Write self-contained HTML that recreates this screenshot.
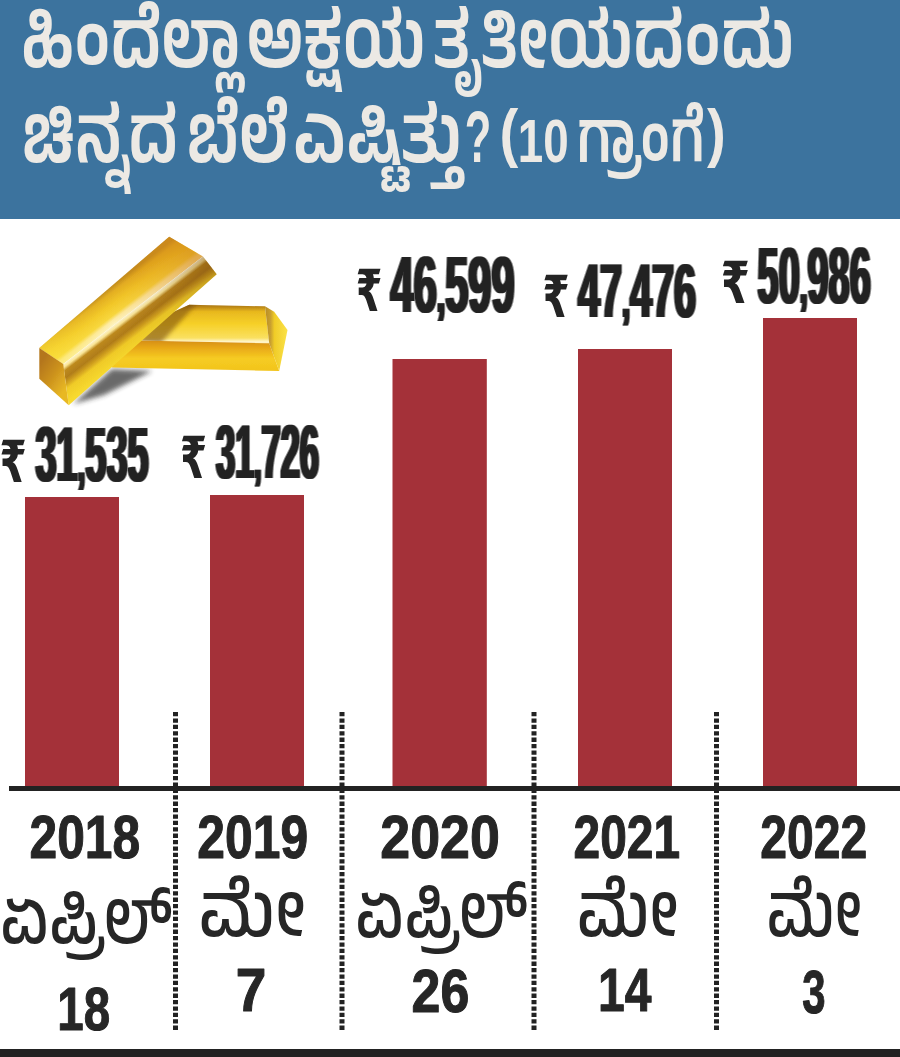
<!DOCTYPE html>
<html lang="kn">
<head>
<meta charset="utf-8">
<title>ಚಿನ್ನದ ಬೆಲೆ</title>
<style>
html,body{margin:0;padding:0;background:#fff;}
body{width:900px;height:1057px;overflow:hidden;position:relative;}
svg{display:block;position:absolute;left:0;top:0;}
.kn{font-family:"Liberation Sans","Anek Kannada","Noto Sans Kannada","Noto Sans Kannada UI","Hind Mysuru",sans-serif;}
.lat{font-family:"Liberation Sans",sans-serif;font-weight:bold;}
.hd{font-weight:560;fill:#ece9e4;}
.val{fill:#242424;}
.rup{font-family:"DejaVu Sans",sans-serif;font-weight:bold;}
.hd2{font-weight:600;}
.lab{fill:#262626;}
.lab .lat{stroke:#262626;stroke-width:1.1px;stroke-linejoin:round;}
.mon{fill:#262626;font-weight:540;}
</style>
</head>
<body>
<svg width="900" height="1057" viewBox="0 0 900 1057">
<!-- header -->
<rect x="0" y="0" width="900" height="219" fill="#3c739e"/>
<text class="kn hd"><tspan x="21.1" y="67" font-size="79" textLength="219.5" lengthAdjust="spacingAndGlyphs">ಹಿಂದೆಲ್ಲಾ</tspan> <tspan x="246.7" y="67" font-size="79" textLength="178.8" lengthAdjust="spacingAndGlyphs">ಅಕ್ಷಯ</tspan> <tspan x="433.0" y="67" font-size="79" textLength="361.1" lengthAdjust="spacingAndGlyphs">ತೃತೀಯದಂದು</tspan></text>
<text class="kn hd"><tspan x="22.1" y="161.5" font-size="79" textLength="156.0" lengthAdjust="spacingAndGlyphs">ಚಿನ್ನದ</tspan> <tspan x="186.7" y="161.5" font-size="79" textLength="101.8" lengthAdjust="spacingAndGlyphs">ಬೆಲೆ</tspan> <tspan x="293.1" y="161.5" font-size="79" textLength="168.7" lengthAdjust="spacingAndGlyphs">ಎಷ್ಟಿತ್ತು</tspan><tspan x="464.8" y="161.5" font-size="73" textLength="26.5" lengthAdjust="spacingAndGlyphs">?</tspan> <tspan class="hd2" x="499.6" y="155" font-size="64" textLength="18.8" lengthAdjust="spacingAndGlyphs">(</tspan><tspan class="hd2" x="517.7" y="161.5" font-size="61" textLength="50.9" lengthAdjust="spacingAndGlyphs">10</tspan> <tspan class="hd2" x="576.7" y="161.5" font-size="71" textLength="128.0" lengthAdjust="spacingAndGlyphs">ಗ್ರಾಂಗೆ</tspan><tspan class="hd2" x="707.0" y="155" font-size="64" textLength="18.8" lengthAdjust="spacingAndGlyphs">)</tspan></text>

<!-- gold bars -->
<defs>
<linearGradient id="gTop" gradientUnits="userSpaceOnUse" x1="43.8" y1="338.6" x2="63.3" y2="364">
<stop offset="0" stop-color="#b8821c"/><stop offset="0.15" stop-color="#e0aa20"/><stop offset="0.45" stop-color="#f2c828"/><stop offset="0.74" stop-color="#f8d840"/><stop offset="0.86" stop-color="#fff0b8"/><stop offset="1" stop-color="#fffae0"/>
</linearGradient>
<linearGradient id="gSide" gradientUnits="userSpaceOnUse" x1="63.3" y1="364" x2="83.4" y2="390.2">
<stop offset="0" stop-color="#fffae0"/><stop offset="0.09" stop-color="#fbe9a0"/><stop offset="0.19" stop-color="#b8841e"/><stop offset="0.38" stop-color="#aa7618"/><stop offset="0.54" stop-color="#d2a220"/><stop offset="0.66" stop-color="#f0cc28"/><stop offset="1" stop-color="#f8dc30"/>
</linearGradient>
<linearGradient id="gSideFade" gradientUnits="userSpaceOnUse" x1="66" y1="404" x2="217" y2="274">
<stop offset="0" stop-color="#f4c828" stop-opacity="0.1"/><stop offset="0.45" stop-color="#e0b020" stop-opacity="0.1"/><stop offset="0.7" stop-color="#8a5a10" stop-opacity="0.1"/><stop offset="1" stop-color="#7a4a0c" stop-opacity="0.4"/>
</linearGradient>
<linearGradient id="gTopFade" gradientUnits="userSpaceOnUse" x1="50" y1="356" x2="185" y2="246">
<stop offset="0" stop-color="#fbe43a" stop-opacity="0.55"/><stop offset="0.4" stop-color="#f6d030" stop-opacity="0.15"/><stop offset="0.7" stop-color="#e09a1c" stop-opacity="0.35"/><stop offset="1" stop-color="#d48a18" stop-opacity="0.7"/>
</linearGradient>
<linearGradient id="gEnd" gradientUnits="userSpaceOnUse" x1="39" y1="365" x2="68" y2="385">
<stop offset="0" stop-color="#b4761c"/><stop offset="0.5" stop-color="#cc921e"/><stop offset="1" stop-color="#e8b824"/>
</linearGradient>
<linearGradient id="gLTop" x1="0" y1="0" x2="0" y2="1">
<stop offset="0" stop-color="#a87414"/><stop offset="0.07" stop-color="#c08c18"/><stop offset="0.18" stop-color="#e8b81e"/><stop offset="0.5" stop-color="#f6d028"/><stop offset="0.86" stop-color="#fae060"/><stop offset="0.95" stop-color="#fff4c4"/><stop offset="1" stop-color="#fff4c4"/>
</linearGradient>
<linearGradient id="gLFront" x1="0" y1="0" x2="0" y2="1">
<stop offset="0" stop-color="#d48c14"/><stop offset="0.25" stop-color="#e8a818"/><stop offset="0.6" stop-color="#f6cc22"/><stop offset="1" stop-color="#f2c41c"/>
</linearGradient>
<linearGradient id="gLEnd" x1="0" y1="0" x2="1" y2="0">
<stop offset="0" stop-color="#b88c24"/><stop offset="0.25" stop-color="#c9a030"/><stop offset="0.42" stop-color="#f0cc28"/><stop offset="1" stop-color="#fbe248"/>
</linearGradient>
<filter id="blur3" x="-30%" y="-30%" width="160%" height="160%"><feGaussianBlur stdDeviation="2.5"/></filter>
<clipPath id="cpLTop"><polygon points="189.2,304.7 265,306.3 269.2,343.3 112,340"/></clipPath>
<filter id="blur2" x="-30%" y="-30%" width="160%" height="160%"><feGaussianBlur stdDeviation="2"/></filter>
<filter id="blur1" x="-10%" y="-10%" width="120%" height="120%"><feGaussianBlur stdDeviation="0.7"/></filter>
</defs>
<g>
<polygon points="73,404 112,369 152,371 104,395" fill="#2a2a2a" opacity="0.7" filter="url(#blur3)"/>
<g filter="url(#blur1)">
<polygon points="189.2,304.7 265,306.3 269.2,343.3 112,340" fill="url(#gLTop)"/>
<g clip-path="url(#cpLTop)"><polygon points="176,300 200,300 160,344 136,344" fill="#7a4e0c" opacity="0.6" filter="url(#blur2)"/></g>
<polygon points="112,340 269.2,343.3 279.2,371 112,367.5" fill="url(#gLFront)"/>
<polygon points="265,306.3 274.2,311.7 287.5,330 279.2,371 269.2,343.3" fill="url(#gLEnd)"/>
<polygon points="39.3,348 169.2,236.7 203,256.5 63.3,364" fill="url(#gTop)"/>
<polygon points="39.3,348 169.2,236.7 203,256.5 63.3,364" fill="url(#gTopFade)"/>
<polygon points="63.3,364 203,256.5 216.7,274.2 68.7,405.3" fill="url(#gSide)"/>
<polygon points="63.3,364 203,256.5 216.7,274.2 68.7,405.3" fill="url(#gSideFade)"/>
<polygon points="39.3,348 39.3,378.7 68.7,405.3 63.3,364" fill="url(#gEnd)"/>
</g>
</g>

<!-- bars -->
<g fill="#a43139">
<rect x="25" y="497" width="94" height="291"/>
<rect x="210" y="495" width="94" height="293"/>
<rect x="392.5" y="359" width="94.3" height="429"/>
<rect x="578" y="349" width="94" height="439"/>
<rect x="763" y="318" width="94" height="470"/>
</g>
<!-- axis -->
<rect x="9" y="786" width="891" height="5" fill="#222"/>
<rect x="0" y="1049" width="900" height="8" fill="#222"/>
<!-- separators -->
<g stroke="#222" stroke-width="5" stroke-dasharray="4.3 2.1">
<line x1="175.5" y1="712" x2="175.5" y2="1032"/>
<line x1="342" y1="712" x2="342" y2="1032"/>
<line x1="534" y1="712" x2="534" y2="1032"/>
<line x1="716.5" y1="712" x2="716.5" y2="1032"/>
</g>
<!-- values -->
<defs><filter id="fat" x="-5%" y="-5%" width="110%" height="110%"><feMorphology in="SourceGraphic" operator="dilate" radius="2 0" result="b"/><feComponentTransfer in="b" result="c"><feFuncA type="linear" slope="0.5"/></feComponentTransfer><feMorphology in="SourceGraphic" operator="dilate" radius="1 0" result="a"/><feMerge><feMergeNode in="c"/><feMergeNode in="a"/></feMerge></filter></defs>
<g class="val"><text class="rup" x="-0.6" y="482" font-size="58" textLength="27.2" lengthAdjust="spacingAndGlyphs">₹</text><text class="lat" filter="url(#fat)" x="35.5" y="481" font-size="78.2" textLength="113.0" lengthAdjust="spacingAndGlyphs">31<tspan font-size="57.9">,</tspan>535</text></g>
<g class="val"><text class="rup" x="180.0" y="477.8" font-size="58" textLength="27.0" lengthAdjust="spacingAndGlyphs">₹</text><text class="lat" filter="url(#fat)" x="216.0" y="477.6" font-size="75.8" textLength="103.0" lengthAdjust="spacingAndGlyphs">31<tspan font-size="56.1">,</tspan>726</text></g>
<g class="val"><text class="rup" x="355.8" y="311" font-size="58" textLength="26.6" lengthAdjust="spacingAndGlyphs">₹</text><text class="lat" filter="url(#fat)" x="390.6" y="311.5" font-size="79" textLength="123.9" lengthAdjust="spacingAndGlyphs">46<tspan font-size="58.5">,</tspan>599</text></g>
<g class="val"><text class="rup" x="542.6" y="317" font-size="58" textLength="27.1" lengthAdjust="spacingAndGlyphs">₹</text><text class="lat" filter="url(#fat)" x="578.0" y="317.1" font-size="76" textLength="118.1" lengthAdjust="spacingAndGlyphs">47<tspan font-size="56.2">,</tspan>476</text></g>
<g class="val"><text class="rup" x="720.7" y="303.3" font-size="58" textLength="29.1" lengthAdjust="spacingAndGlyphs">₹</text><text class="lat" filter="url(#fat)" x="757.6" y="302.6" font-size="79" textLength="113.1" lengthAdjust="spacingAndGlyphs">50<tspan font-size="58.5">,</tspan>986</text></g>
<!-- x labels -->
<g class="lab"><text class="lat" x="29.5" y="858" font-size="61" textLength="110.6" lengthAdjust="spacingAndGlyphs">2018</text><text class="kn mon" x="-0.1" y="943" font-size="73" textLength="172.7" lengthAdjust="spacingAndGlyphs">ಏಪ್ರಿಲ್</text><text class="lat" x="57.3" y="1030" font-size="61" textLength="52.8" lengthAdjust="spacingAndGlyphs">18</text></g>
<g class="lab"><text class="lat" x="197.3" y="858" font-size="61" textLength="110.8" lengthAdjust="spacingAndGlyphs">2019</text><text class="kn mon" x="198.3" y="936.2" font-size="73" textLength="107.7" lengthAdjust="spacingAndGlyphs">ಮೇ</text><text class="lat" x="235.8" y="1011" font-size="61" textLength="30.6" lengthAdjust="spacingAndGlyphs">7</text></g>
<g class="lab"><text class="lat" x="380.3" y="858" font-size="61" textLength="119.6" lengthAdjust="spacingAndGlyphs">2020</text><text class="kn mon" x="354.9" y="936.5" font-size="73" textLength="173.1" lengthAdjust="spacingAndGlyphs">ಏಪ್ರಿಲ್</text><text class="lat" x="411.6" y="1012.3" font-size="61" textLength="57.7" lengthAdjust="spacingAndGlyphs">26</text></g>
<g class="lab"><text class="lat" x="573.5" y="858" font-size="61" textLength="106.6" lengthAdjust="spacingAndGlyphs">2021</text><text class="kn mon" x="576.4" y="936" font-size="73" textLength="102.4" lengthAdjust="spacingAndGlyphs">ಮೇ</text><text class="lat" x="598.1" y="1011.2" font-size="61" textLength="53.4" lengthAdjust="spacingAndGlyphs">14</text></g>
<g class="lab"><text class="lat" x="760.3" y="858" font-size="61" textLength="107.1" lengthAdjust="spacingAndGlyphs">2022</text><text class="kn mon" x="766.2" y="936" font-size="73" textLength="96.0" lengthAdjust="spacingAndGlyphs">ಮೇ</text><text class="lat" x="802.2" y="1012.5" font-size="61" textLength="23.3" lengthAdjust="spacingAndGlyphs">3</text></g>
</svg>
</body>
</html>
